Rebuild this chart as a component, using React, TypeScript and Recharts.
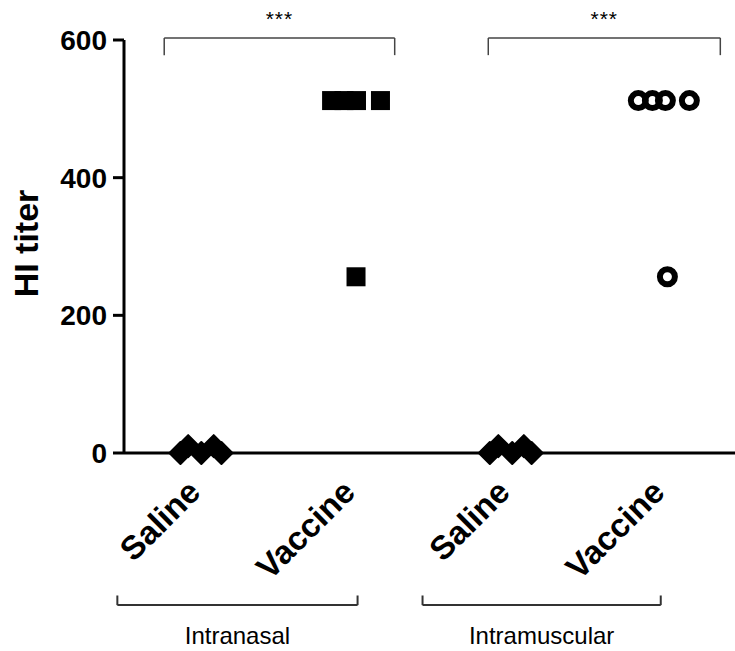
import React from 'react';
import { ScatterChart, Scatter, XAxis, YAxis, ReferenceLine } from 'recharts';

// groups along the x axis (1..4)
const categories = ['Saline', 'Vaccine', 'Saline', 'Vaccine'];
const routes = ['Intranasal', 'Intramuscular'];
const yTicks = [0, 200, 400, 600];

// HI titer per animal, with the horizontal spread used in the column scatter
const salineInJitter = [-0.135, -0.085, 0, 0.08, 0.13];
const salineInTiter = [0, 10, 0, 10, 0];
const vaccineInJitter = [-0.158, -0.078, 0.003, 0.158, 0];
const vaccineInTiter = [512, 512, 512, 512, 256];
const salineImJitter = [-0.135, -0.08, 0.01, 0.085, 0.135];
const salineImTiter = [0, 10, 0, 10, 0];
const vaccineImJitter = [-0.175, -0.084, 0, 0.155, 0.013];
const vaccineImTiter = [512, 512, 512, 512, 256];

const toPoints = (group: number, jitter: number[], titer: number[]) =>
  titer.map((v, i) => ({ x: group + jitter[i], y: v }));

const salineIn = toPoints(1, salineInJitter, salineInTiter);
const vaccineIn = toPoints(2, vaccineInJitter, vaccineInTiter);
const salineIm = toPoints(3, salineImJitter, salineImTiter);
const vaccineIm = toPoints(4, vaccineImJitter, vaccineImTiter);

const FONT = '"Liberation Sans", Arial, sans-serif';

const Diamond = ({ cx, cy }: any) => (
  <polygon
    points={`${cx},${cy - 11} ${cx + 11},${cy} ${cx},${cy + 11} ${cx - 11},${cy}`}
    fill="#000"
    stroke="#000"
    strokeWidth={2}
    strokeLinejoin="round"
  />
);
const Square = ({ cx, cy }: any) => <rect x={cx - 9.5} y={cy - 9.5} width={19} height={19} fill="#000" />;
const Ring = ({ cx, cy }: any) => <circle cx={cx} cy={cy} r={7.5} fill="none" stroke="#000" strokeWidth={6} />;

const CategoryTick = ({ x, y, payload }: any) => {
  const tx = x + 1;
  const ty = y + 33;
  return (
    <text
      x={tx}
      y={ty}
      transform={`rotate(-45 ${tx} ${ty})`}
      textAnchor="end"
      fontSize={33}
      fontWeight="bold"
      fontFamily={FONT}
      fill="#000"
    >
      {categories[payload.value - 1]}
    </text>
  );
};

const YLabel = ({ viewBox }: any) => {
  const cx = viewBox.x + 26;
  const cy = viewBox.y + viewBox.height / 2 - 3;
  return (
    <text
      x={cx}
      y={cy}
      transform={`rotate(-90 ${cx} ${cy})`}
      textAnchor="middle"
      dominantBaseline="central"
      fontSize={34}
      fontWeight="bold"
      fontFamily={FONT}
      fill="#000"
    >
      HI titer
    </text>
  );
};

// bracket layout in data units
const sigSpans = [[0.76, 2.25], [2.855, 4.355]];
const routeSpans = [[0.457, 2.01], [2.43, 3.97]];

const App: React.FC = () => {
  return (
    <div style={{ position: 'absolute', left: 0, top: 0, background: '#fff' }}>
      <ScatterChart width={735} height={651} margin={{ top: 40, right: 0, bottom: 0, left: 0 }}>
        <XAxis
          type="number"
          dataKey="x"
          domain={[0.5, 4.45]}
          ticks={[1, 2, 3, 4]}
          allowDataOverflow
          height={198}
          tickLine={false}
          axisLine={{ stroke: '#000', strokeWidth: 3 }}
          tick={<CategoryTick />}
          interval={0}
        />
        <YAxis
          type="number"
          dataKey="y"
          domain={[0, 600]}
          ticks={yTicks}
          width={124}
          tickSize={11}
          tickMargin={6}
          tickLine={{ stroke: '#000', strokeWidth: 3 }}
          axisLine={{ stroke: '#000', strokeWidth: 3 }}
          tick={{ fill: '#000', fontSize: 28, fontWeight: 'bold', fontFamily: FONT }}
          label={(props: any) => <YLabel {...props} />}
        />

        {sigSpans.map(([a, b], i) => (
          <React.Fragment key={`sig${i}`}>
            <ReferenceLine
              segment={[{ x: a, y: 603 }, { x: b, y: 603 }]}
              stroke="#444"
              strokeWidth={1.5}
              ifOverflow="visible"
              label={{ value: '***', position: 'top', offset: 12, fill: '#000', fontSize: 21, letterSpacing: 1, fontFamily: FONT }}
            />
            <ReferenceLine segment={[{ x: a, y: 603 }, { x: a, y: 578 }]} stroke="#444" strokeWidth={1.5} ifOverflow="visible" />
            <ReferenceLine segment={[{ x: b, y: 603 }, { x: b, y: 578 }]} stroke="#444" strokeWidth={1.5} ifOverflow="visible" />
          </React.Fragment>
        ))}

        {routeSpans.map(([a, b], i) => (
          <React.Fragment key={`route${i}`}>
            <ReferenceLine
              segment={[{ x: a, y: -221 }, { x: b, y: -221 }]}
              stroke="#333"
              strokeWidth={2}
              ifOverflow="visible"
              label={{ value: routes[i], position: 'bottom', offset: 22, fill: '#000', fontSize: 24, fontFamily: FONT }}
            />
            <ReferenceLine segment={[{ x: a, y: -221 }, { x: a, y: -207 }]} stroke="#333" strokeWidth={2} ifOverflow="visible" />
            <ReferenceLine segment={[{ x: b, y: -221 }, { x: b, y: -207 }]} stroke="#333" strokeWidth={2} ifOverflow="visible" />
          </React.Fragment>
        ))}

        <Scatter data={salineIn} shape={<Diamond />} isAnimationActive={false} />
        <Scatter data={vaccineIn} shape={<Square />} isAnimationActive={false} />
        <Scatter data={salineIm} shape={<Diamond />} isAnimationActive={false} />
        <Scatter data={vaccineIm} shape={<Ring />} isAnimationActive={false} />
      </ScatterChart>
    </div>
  );
};

export default App;
